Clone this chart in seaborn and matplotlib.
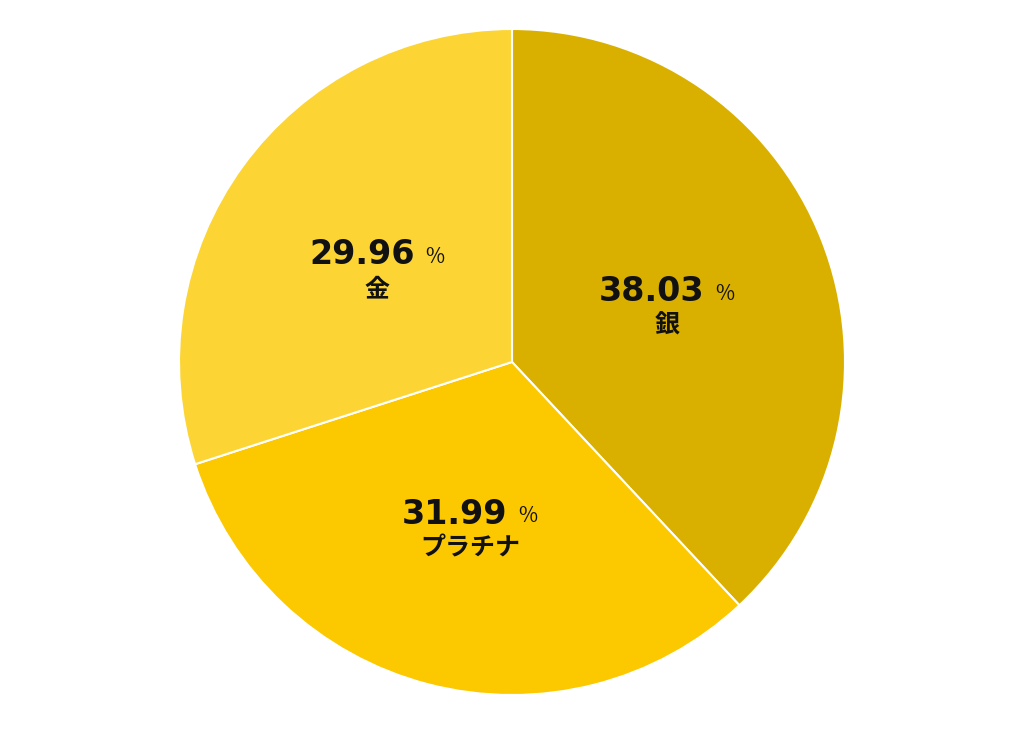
import matplotlib
matplotlib.use("Agg")
import matplotlib.pyplot as plt
import seaborn as sns

# data
labels = ["銀", "プラチナ", "金"]
shares = [38.03, 31.99, 29.96]
colors = ["#DAB000", "#FCC800", "#FCD535"]

sns.set_theme(style="white")
plt.rcParams['font.family'] = ['Noto Sans CJK JP', 'DejaVu Sans']

fig = plt.figure(figsize=(10.24, 7.39), dpi=100)
ax = fig.add_axes([0, 0, 1, 1])

R = 333.0
wedges, texts, autotexts = ax.pie(
    shares, colors=sns.color_palette(colors), startangle=90, counterclock=False,
    autopct='', pctdistance=0.5,
    wedgeprops=dict(edgecolor='white', linewidth=1.5),
)

for at, val, name in zip(autotexts, shares, labels):
    x, y = at.get_position()
    at.set_visible(False)
    ax.annotate(f"{val:.2f}", (x, y), xytext=(37, 9), textcoords='offset pixels',
                ha='right', va='center', fontsize=24, fontweight='bold',
                family='DejaVu Sans', color='#111111')
    ax.annotate("%", (x, y), xytext=(48, 7), textcoords='offset pixels',
                ha='left', va='center', fontsize=15, color='#111111')
    ax.annotate(name, (x, y), xytext=(0, -25), textcoords='offset pixels',
                ha='center', va='center', fontsize=18, fontweight='bold', color='#111111')

ax.set_xlim(-512 / R, 512 / R)
ax.set_ylim(-377 / R, 362 / R)
ax.set_aspect('equal')
ax.axis('off')

fig.savefig("out.png", dpi=100, facecolor='white')
